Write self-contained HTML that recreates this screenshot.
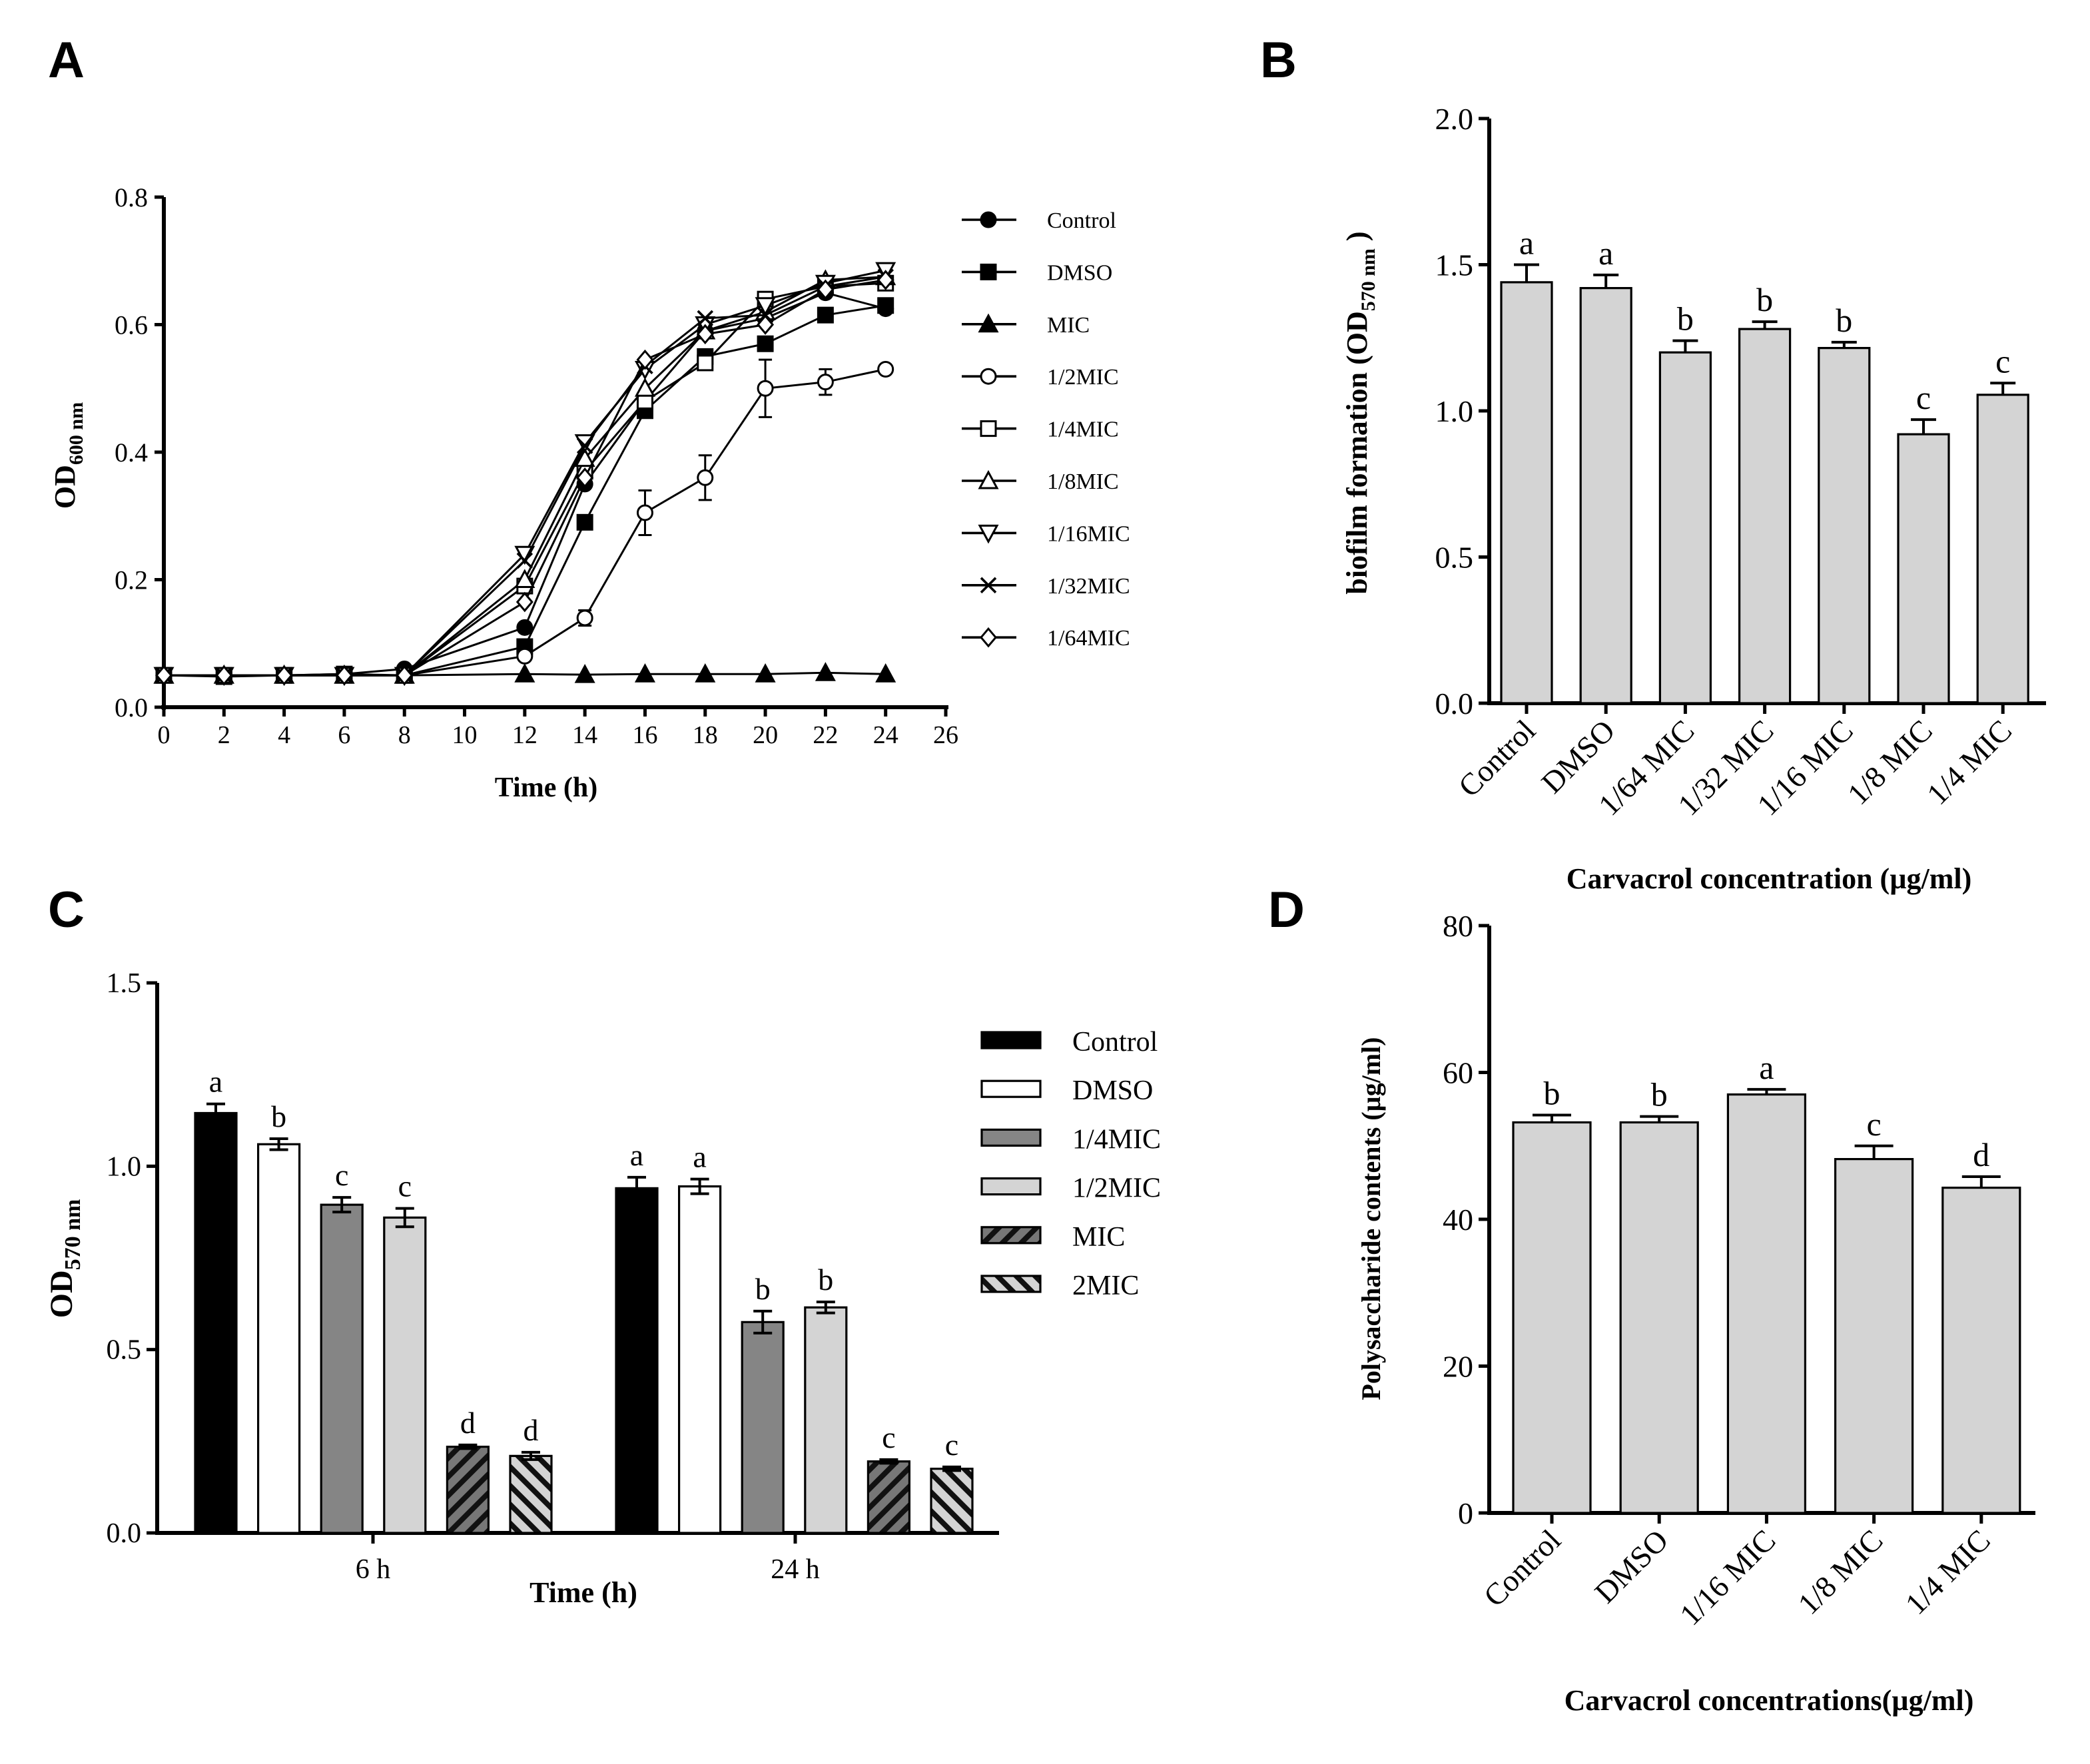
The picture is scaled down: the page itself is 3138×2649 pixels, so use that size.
<!DOCTYPE html>
<html><head><meta charset="utf-8"><style>
html,body{margin:0;padding:0;background:#fff}
svg{display:block}
text{font-family:"Liberation Serif",serif;fill:#000}
.lbl{font-family:"Liberation Sans",Arial,sans-serif;font-weight:bold}
</style></head><body>
<svg id="fig" width="3138" height="2649" viewBox="0 0 1569 1324.5" xmlns="http://www.w3.org/2000/svg">
<defs>
<pattern id="hatchMIC" patternUnits="userSpaceOnUse" width="10" height="10" patternTransform="rotate(45)">
<rect width="10" height="10" fill="#777"/><rect width="4" height="10" fill="#111"/></pattern>
<pattern id="hatch2MIC" patternUnits="userSpaceOnUse" width="10" height="10" patternTransform="rotate(-45)">
<rect width="10" height="10" fill="#d4d4d4"/><rect width="4" height="10" fill="#111"/></pattern>
</defs>
<text class="lbl" x="36" y="58" font-size="38">A</text>
<text class="lbl" x="946" y="58" font-size="38">B</text>
<text class="lbl" x="36" y="696" font-size="38">C</text>
<text class="lbl" x="952" y="696" font-size="38">D</text>
<g id="pa"></g>
<g id="pb"></g>
<g id="pc"></g>
<g id="pd"></g>
</svg>
<script>
// ---------- Panel A data ----------
const aTimes=[0,2,4,6,8,12,14,16,18,20,22,24];
const aSeriesNames=["Control","DMSO","MIC","1/2MIC","1/4MIC","1/8MIC","1/16MIC","1/32MIC","1/64MIC"];
const aControl=[0.05,0.05,0.05,0.052,0.06,0.125,0.35,0.48,0.59,0.61,0.65,0.625];
const aDMSO=[0.05,0.048,0.05,0.052,0.05,0.095,0.29,0.465,0.55,0.57,0.615,0.63];
const aMIC=[0.05,0.05,0.05,0.05,0.05,0.052,0.051,0.052,0.052,0.052,0.054,0.052];
const aHalf=[0.05,0.05,0.05,0.05,0.05,0.08,0.14,0.305,0.36,0.5,0.51,0.53];
const aQuarter=[0.05,0.05,0.05,0.05,0.05,0.19,0.37,0.48,0.54,0.64,0.66,0.665];
const aEighth=[0.05,0.05,0.05,0.05,0.05,0.2,0.39,0.5,0.59,0.62,0.67,0.675];
const aSixteenth=[0.05,0.05,0.05,0.05,0.05,0.24,0.415,0.53,0.6,0.63,0.665,0.685];
const aThirtySecond=[0.05,0.05,0.05,0.05,0.05,0.23,0.41,0.535,0.61,0.615,0.66,0.675];
const aSixtyFourth=[0.05,0.05,0.05,0.05,0.05,0.165,0.36,0.545,0.585,0.6,0.655,0.67];
const aHalfErr=[0,0,0,0,0,0.005,0.012,0.035,0.035,0.045,0.02,0.005];
const aXTicks=[0,2,4,6,8,10,12,14,16,18,20,22,24,26];
const aYTicks=[0.0,0.2,0.4,0.6,0.8];
// ---------- Panel B data ----------
const bCats=["Control","DMSO","1/64 MIC","1/32 MIC","1/16 MIC","1/8 MIC","1/4 MIC"];
const bVals=[1.44,1.42,1.20,1.28,1.215,0.92,1.055];
const bErrs=[0.06,0.045,0.04,0.025,0.02,0.05,0.04];
const bLetters=["a","a","b","b","b","c","c"];
const bYTicks=[0.0,0.5,1.0,1.5,2.0];
// ---------- Panel C data ----------
const cGroups=["6 h","24 h"];
const cSeries=["Control","DMSO","1/4MIC","1/2MIC","MIC","2MIC"];
const c6h=[1.145,1.06,0.895,0.86,0.235,0.21];
const c24h=[0.94,0.945,0.575,0.615,0.195,0.175];
const c6hErr=[0.025,0.015,0.02,0.025,0.005,0.01];
const c24hErr=[0.03,0.02,0.03,0.015,0.005,0.005];
const c6hLetters=["a","b","c","c","d","d"];
const c24hLetters=["a","a","b","b","c","c"];
const cYTicks=[0.0,0.5,1.0,1.5];
// ---------- Panel D data ----------
const dCats=["Control","DMSO","1/16 MIC","1/8 MIC","1/4 MIC"];
const dVals=[53.2,53.2,57.0,48.2,44.3];
const dErrs=[1.0,0.8,0.7,1.8,1.5];
const dLetters=["b","b","a","c","d"];
const dYTicks=[0,20,40,60,80];

const NS="http://www.w3.org/2000/svg";
function mk(parent,tag,attrs,txt){const e=document.createElementNS(NS,tag);for(const k in attrs)e.setAttribute(k,attrs[k]);if(txt!==undefined)e.textContent=txt;parent.appendChild(e);return e;}
function fmt1(v){return v.toFixed(1);}

// ===== Panel A =====
(function(){
const g=document.getElementById('pa');
const x=t=>123+t*(587/26), y=v=>531-v*(383/0.8);
let ax=mk(g,'line',{x1:123,y1:148,x2:123,y2:533,stroke:'#000','stroke-width':3});

let bx=mk(g,'line',{x1:121,y1:531,x2:712,y2:531,stroke:'#000','stroke-width':3});

aYTicks.forEach(v=>{mk(g,'line',{x1:116,y1:y(v),x2:123,y2:y(v),stroke:'#000','stroke-width':2.5});
 const t=mk(g,'text',{x:111,y:y(v)+7,'font-size':20,'text-anchor':'end'},fmt1(v));
 });
aXTicks.forEach(v=>{mk(g,'line',{x1:x(v),y1:531,x2:x(v),y2:538,stroke:'#000','stroke-width':2.5});
 const t=mk(g,'text',{x:x(v),y:558,'font-size':19,'text-anchor':'middle'},String(v));
 });
let xt=mk(g,'text',{x:410,y:598,'font-size':21,'font-weight':'bold','text-anchor':'middle'},'Time (h)');

let yt=mk(g,'text',{transform:'translate(56,342) rotate(-90)','font-size':22,'font-weight':'bold','text-anchor':'middle'});

mk(yt,'tspan',{},'OD');mk(yt,'tspan',{'font-size':15,dy:6},'600 nm');
const data=[aControl,aDMSO,aMIC,aHalf,aQuarter,aEighth,aSixteenth,aThirtySecond,aSixtyFourth];
const marks=['fcircle','fsquare','ftri','ocircle','osquare','otri','itri','cross','diamond'];
function marker(par,m,cx,cy,s){
 const f=m[0]==='f'?'#000':'#fff';
 if(m.endsWith('circle'))return mk(par,'circle',{cx,cy,r:s,fill:f,stroke:'#000','stroke-width':1.5});
 if(m.endsWith('square'))return mk(par,'rect',{x:cx-s,y:cy-s,width:2*s,height:2*s,fill:f,stroke:'#000','stroke-width':1.5});
 if(m==='ftri'||m==='otri')return mk(par,'polygon',{points:`${cx},${cy-s-1} ${cx-s-1},${cy+s} ${cx+s+1},${cy+s}`,fill:f,stroke:'#000','stroke-width':1.5});
 if(m==='itri')return mk(par,'polygon',{points:`${cx},${cy+s+1} ${cx-s-1},${cy-s} ${cx+s+1},${cy-s}`,fill:'#fff',stroke:'#000','stroke-width':1.5});
 if(m==='cross')return mk(par,'path',{d:`M${cx-s},${cy-s}L${cx+s},${cy+s}M${cx-s},${cy+s}L${cx+s},${cy-s}`,stroke:'#000','stroke-width':1.8,fill:'none'});
 return mk(par,'polygon',{points:`${cx},${cy-s-1} ${cx+s},${cy} ${cx},${cy+s+1} ${cx-s},${cy}`,fill:'#fff',stroke:'#000','stroke-width':1.5});
}
data.forEach((arr,si)=>{
 const sg=mk(g,'g',{});
 
 
 mk(sg,'polyline',{points:arr.map((v,i)=>x(aTimes[i])+','+y(v)).join(' '),fill:'none',stroke:'#000','stroke-width':1.5});
 if(si===3){arr.forEach((v,i)=>{const e=aHalfErr[i];if(e>0){const px=x(aTimes[i]);
  mk(sg,'path',{d:`M${px},${y(v+e)}V${y(v-e)}M${px-5},${y(v+e)}h10M${px-5},${y(v-e)}h10`,stroke:'#000','stroke-width':1.5});}});}
 arr.forEach((v,i)=>{const p=marker(sg,marks[si],x(aTimes[i]),y(v),5.5);
  });
});
aSeriesNames.forEach((n,i)=>{const ly=165+i*39.2;
 const lg=mk(g,'g',{});
 mk(lg,'line',{x1:722,y1:ly,x2:763,y2:ly,stroke:'#000','stroke-width':1.8});
 marker(lg,marks[i],742,ly,5.5);
 mk(lg,'text',{x:786,y:ly+6,'font-size':17},n);});
})();

// ===== bar helper =====
function barPanel(gid,prefix,cats,vals,errs,letters,ticks,opt){
 const g=document.getElementById(gid);
 const y=v=>opt.y0-v*(opt.y0-opt.yTop)/ticks[ticks.length-1];
 let ax=mk(g,'line',{x1:opt.ax,y1:opt.yTop,x2:opt.ax,y2:opt.y0+1.5,stroke:'#000','stroke-width':3});
 
 let bx=mk(g,'line',{x1:opt.ax-1.5,y1:opt.y0,x2:opt.xEnd,y2:opt.y0,stroke:'#000','stroke-width':3});
 
 ticks.forEach(v=>{mk(g,'line',{x1:opt.ax-8,y1:y(v),x2:opt.ax,y2:y(v),stroke:'#000','stroke-width':2.5});
  const t=mk(g,'text',{x:opt.ax-12,y:y(v)+8,'font-size':23,'text-anchor':'end'},opt.fmt(v));
  });
 cats.forEach((c,i)=>{const cx=opt.x0+i*opt.step,w=opt.bw;
  const r=mk(g,'rect',{x:cx-w/2,y:y(vals[i]),width:w,height:opt.y0-y(vals[i]),fill:'#d4d4d4',stroke:'#000','stroke-width':1.6});
  
  const e=errs[i];
  mk(g,'path',{d:`M${cx},${y(vals[i])}V${y(vals[i]+e)}M${cx-w/4},${y(vals[i]+e)}h${w/2}`,stroke:'#000','stroke-width':2});
  mk(g,'line',{x1:cx,y1:opt.y0,x2:cx,y2:opt.y0+8,stroke:'#000','stroke-width':2.5});
  const l=mk(g,'text',{x:cx,y:y(vals[i]+e)-8,'font-size':25,'text-anchor':'middle'},letters[i]);
  
  const t=mk(g,'text',{transform:`translate(${cx+8},${opt.y0+22}) rotate(-45)`,'font-size':23,'text-anchor':'end'},c);
  });
 let xt=mk(g,'text',{x:opt.xtx,y:opt.xty,'font-size':22,'font-weight':'bold','text-anchor':'middle'},opt.xtitle);
 
 return {g,y};
}
// ===== Panel B =====
(function(){
 const r=barPanel('pb','b',bCats,bVals,bErrs,bLetters,bYTicks,{ax:1118,y0:528,yTop:89,xEnd:1536,x0:1146,step:59.6,bw:38,fmt:fmt1,xtx:1328,xty:667,xtitle:'Carvacrol concentration (µg/ml)'});
 const yt=mk(r.g,'text',{transform:'translate(1026,310) rotate(-90)','font-size':22,'font-weight':'bold','text-anchor':'middle'});
 
 mk(yt,'tspan',{},'biofilm formation (OD');mk(yt,'tspan',{'font-size':15,dy:6},'570 nm');mk(yt,'tspan',{dy:-6},' )');
})();
// ===== Panel D =====
(function(){
 const r=barPanel('pd','d',dCats,dVals,dErrs,dLetters,dYTicks,{ax:1118,y0:1136,yTop:695,xEnd:1528,x0:1165,step:80.6,bw:58,fmt:v=>String(v),xtx:1328,xty:1284,xtitle:'Carvacrol concentrations(µg/ml)'});
 const yt=mk(r.g,'text',{transform:'translate(1036,915) rotate(-90)','font-size':20,'font-weight':'bold','text-anchor':'middle'},'Polysaccharide contents (µg/ml)');
 
})();
// ===== Panel C =====
(function(){
 const g=document.getElementById('pc');
 const y0=1151,yTop=738;const y=v=>y0-v*(y0-yTop)/1.5;
 let ax=mk(g,'line',{x1:118,y1:yTop,x2:118,y2:y0+1.5,stroke:'#000','stroke-width':3});
 
 let bx=mk(g,'line',{x1:116.5,y1:y0,x2:750,y2:y0,stroke:'#000','stroke-width':3});
 
 cYTicks.forEach(v=>{mk(g,'line',{x1:110,y1:y(v),x2:118,y2:y(v),stroke:'#000','stroke-width':2.5});
  const t=mk(g,'text',{x:106,y:y(v)+7,'font-size':21,'text-anchor':'end'},fmt1(v));
  });
 const fills=['#000','#fff','#858585','#d4d4d4','url(#hatchMIC)','url(#hatch2MIC)'];
 const groupsV=[c6h,c24h],groupsE=[c6hErr,c24hErr],groupsL=[c6hLetters,c24hLetters];
 const gx=[162,478],tickX=[280,597],step=47.3,bw=31;
 groupsV.forEach((vals,gi)=>{
  vals.forEach((v,i)=>{const cx=gx[gi]+i*step,e=groupsE[gi][i];
   const r=mk(g,'rect',{x:cx-bw/2,y:y(v),width:bw,height:y0-y(v),fill:fills[i],stroke:'#000','stroke-width':1.6});
   
   
   mk(g,'path',{d:`M${cx},${y(v-e)}V${y(v+e)}M${cx-7},${y(v+e)}h14M${cx-7},${y(v-e)}h14`,stroke:'#000','stroke-width':2});
   const l=mk(g,'text',{x:cx,y:y(v+e)-9,'font-size':23,'text-anchor':'middle'},groupsL[gi][i]);
   });
  mk(g,'line',{x1:tickX[gi],y1:y0,x2:tickX[gi],y2:y0+8,stroke:'#000','stroke-width':2.5});
  const t=mk(g,'text',{x:tickX[gi],y:y0+34,'font-size':21,'text-anchor':'middle'},cGroups[gi]);
  });
 let xt=mk(g,'text',{x:438,y:1203,'font-size':22,'font-weight':'bold','text-anchor':'middle'},'Time (h)');
 
 let yt=mk(g,'text',{transform:'translate(54,945) rotate(-90)','font-size':24,'font-weight':'bold','text-anchor':'middle'});
 
 mk(yt,'tspan',{},'OD');mk(yt,'tspan',{'font-size':17,dy:6},'570 nm');
 cSeries.forEach((n,i)=>{const ly=781+i*36.6;
  const lg=mk(g,'g',{});
  mk(lg,'rect',{x:737,y:ly-6,width:44,height:12,fill:fills[i],stroke:'#000','stroke-width':1.6});
  mk(lg,'text',{x:805,y:ly+8,'font-size':21},n);});
})();
</script>
</body></html>
